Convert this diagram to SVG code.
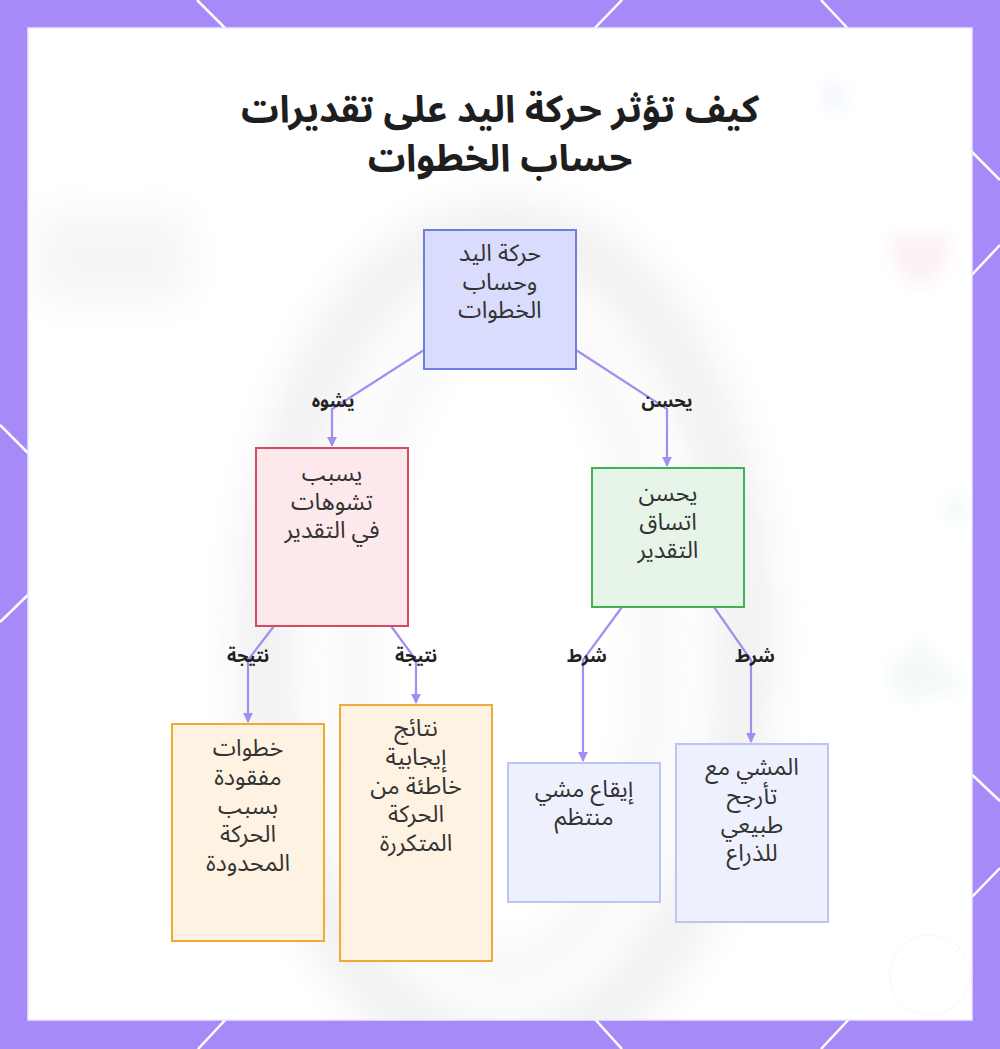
<svg xmlns="http://www.w3.org/2000/svg" width="1000" height="1049" viewBox="0 0 1000 1049">
<defs>
<style>
.hex{stroke:#ffffff;stroke-width:2.5;fill:none}
.node text{font-family:"Noto Sans Arabic","Noto Sans","DejaVu Sans",sans-serif;font-size:23.5px;fill:#333333;text-anchor:middle;dominant-baseline:central}
.edge{fill:none;stroke:#a48cf0;stroke-width:2.2}
.elabel{font-family:"Noto Sans Arabic","DejaVu Sans",sans-serif;font-size:18px;font-weight:bold;fill:#222222;text-anchor:middle;dominant-baseline:central}
.title{font-family:"Noto Sans Arabic","DejaVu Sans",sans-serif;font-size:37.5px;font-weight:bold;fill:#1e1e1e;text-anchor:middle}
.n-main{fill:#d9dcfc;stroke:#6f7fe0;stroke-width:2}
.n-red{fill:#fde8ec;stroke:#d64a5e;stroke-width:2}
.n-green{fill:#e7f5e9;stroke:#3db356;stroke-width:2}
.n-yellow{fill:#fef3e3;stroke:#eeaa33;stroke-width:2}
.n-blue{fill:#eef1fd;stroke:#bcc5f3;stroke-width:2}
</style>
<marker id="arr" viewBox="0 0 10 10" refX="9" refY="5" markerWidth="4.5" markerHeight="4.5" orient="auto-start-reverse" markerUnits="strokeWidth">
<path d="M0,0 L10,5 L0,10 z" fill="#a48cf0"/>
</marker>
<filter id="blur" x="-50%" y="-50%" width="200%" height="200%"><feGaussianBlur stdDeviation="20"/></filter>
<filter id="blur2" x="-50%" y="-50%" width="200%" height="200%"><feGaussianBlur stdDeviation="9"/></filter>
<clipPath id="panel"><rect x="28" y="28" width="944" height="992"/></clipPath>
</defs>
<rect x="0" y="0" width="1000" height="1049" fill="#a68bf8"/>
<g id="hexlines">
<line class="hex" x1="197" y1="0" x2="230" y2="33"/>
<line class="hex" x1="622" y1="0" x2="590" y2="33"/>
<line class="hex" x1="821" y1="0" x2="852" y2="33"/>
<line class="hex" x1="198" y1="1049" x2="229" y2="1016"/>
<line class="hex" x1="622" y1="1049" x2="592" y2="1016"/>
<line class="hex" x1="821" y1="1049" x2="852" y2="1016"/>
<line class="hex" x1="0" y1="425" x2="33" y2="458"/>
<line class="hex" x1="0" y1="622" x2="33" y2="590"/>
<line class="hex" x1="1000" y1="180" x2="967" y2="147"/>
<line class="hex" x1="1000" y1="245" x2="967" y2="280"/>
<line class="hex" x1="1000" y1="801" x2="967" y2="770"/>
<line class="hex" x1="1000" y1="868" x2="967" y2="902"/>
</g>
<rect x="28" y="28" width="944" height="992" fill="#ffffff" stroke="#ece6ff" stroke-width="1.5"/>
<g id="background" clip-path="url(#panel)">
<ellipse cx="505" cy="640" rx="240" ry="410" fill="none" stroke="#f0f0f0" stroke-width="55" filter="url(#blur)"/>
<ellipse cx="505" cy="640" rx="150" ry="330" fill="none" stroke="#f5f5f5" stroke-width="30" filter="url(#blur)"/>
<path d="M890,240 Q905,225 920,240 Q935,225 950,240 Q955,262 920,290 Q885,262 890,240 z" fill="#fdf1f3" filter="url(#blur2)"/>
<circle cx="835" cy="97" r="12" fill="#f0f4fd" filter="url(#blur2)"/>
<circle cx="955" cy="510" r="12" fill="#f0faf8" filter="url(#blur2)"/>
<path d="M885,670 L920,640 L965,690 L900,700 z" fill="#f3faf5" filter="url(#blur2)"/>
<circle cx="930" cy="975" r="40" fill="none" stroke="#f4f4f4" stroke-width="1.5" stroke-dasharray="2 2"/>
<rect x="38" y="215" width="150" height="85" fill="#f4f5f6" filter="url(#blur)"/>
</g>
<g id="title">
<text class="title" x="500" y="122">كيف تؤثر حركة اليد على تقديرات</text>
<text class="title" x="500" y="171">حساب الخطوات</text>
</g>
<g id="connectors">
<polyline class="edge" points="424,350 332,409 332,446" marker-end="url(#arr)"/>
<polyline class="edge" points="576,350 667,409 667,466" marker-end="url(#arr)"/>
<polyline class="edge" points="274,626 248,660 248,722" marker-end="url(#arr)"/>
<polyline class="edge" points="391,626 416,660 416,703" marker-end="url(#arr)"/>
<polyline class="edge" points="622,607 583,660 583,761" marker-end="url(#arr)"/>
<polyline class="edge" points="714,607 751,660 751,742" marker-end="url(#arr)"/>
<text class="elabel" x="333" y="401">يشوه</text>
<text class="elabel" x="667" y="401">يحسن</text>
<text class="elabel" x="248" y="656">نتيجة</text>
<text class="elabel" x="416" y="656">نتيجة</text>
<text class="elabel" x="587" y="656">شرط</text>
<text class="elabel" x="755" y="656">شرط</text>
</g>
<g id="node-main" class="node">
<rect class="n-main" x="424" y="230" width="152" height="139"/>
<text x="500" y="253">حركة اليد</text>
<text x="500" y="282">وحساب</text>
<text x="500" y="310">الخطوات</text>
</g>
<g id="node-distort" class="node">
<rect class="n-red" x="256" y="448" width="152" height="178"/>
<text x="332" y="473">يسبب</text>
<text x="332" y="502">تشوهات</text>
<text x="332" y="530">في التقدير</text>
</g>
<g id="node-improve" class="node">
<rect class="n-green" x="592" y="468" width="152" height="139"/>
<text x="668" y="493">يحسن</text>
<text x="668" y="522">اتساق</text>
<text x="668" y="550">التقدير</text>
</g>
<g id="node-missed" class="node">
<rect class="n-yellow" x="172" y="724" width="152" height="217"/>
<text x="248" y="748">خطوات</text>
<text x="248" y="777">مفقودة</text>
<text x="248" y="806">بسبب</text>
<text x="248" y="834">الحركة</text>
<text x="248" y="863">المحدودة</text>
</g>
<g id="node-false" class="node">
<rect class="n-yellow" x="340" y="705" width="152" height="256"/>
<text x="416" y="728">نتائج</text>
<text x="416" y="757">إيجابية</text>
<text x="416" y="786">خاطئة من</text>
<text x="416" y="814">الحركة</text>
<text x="416" y="843">المتكررة</text>
</g>
<g id="node-rhythm" class="node">
<rect class="n-blue" x="508" y="763" width="152" height="139"/>
<text x="584" y="789">إيقاع مشي</text>
<text x="584" y="817">منتظم</text>
</g>
<g id="node-swing" class="node">
<rect class="n-blue" x="676" y="744" width="152" height="178"/>
<text x="752" y="767">المشي مع</text>
<text x="752" y="796">تأرجح</text>
<text x="752" y="825">طبيعي</text>
<text x="752" y="853">للذراع</text>
</g>
</svg>
